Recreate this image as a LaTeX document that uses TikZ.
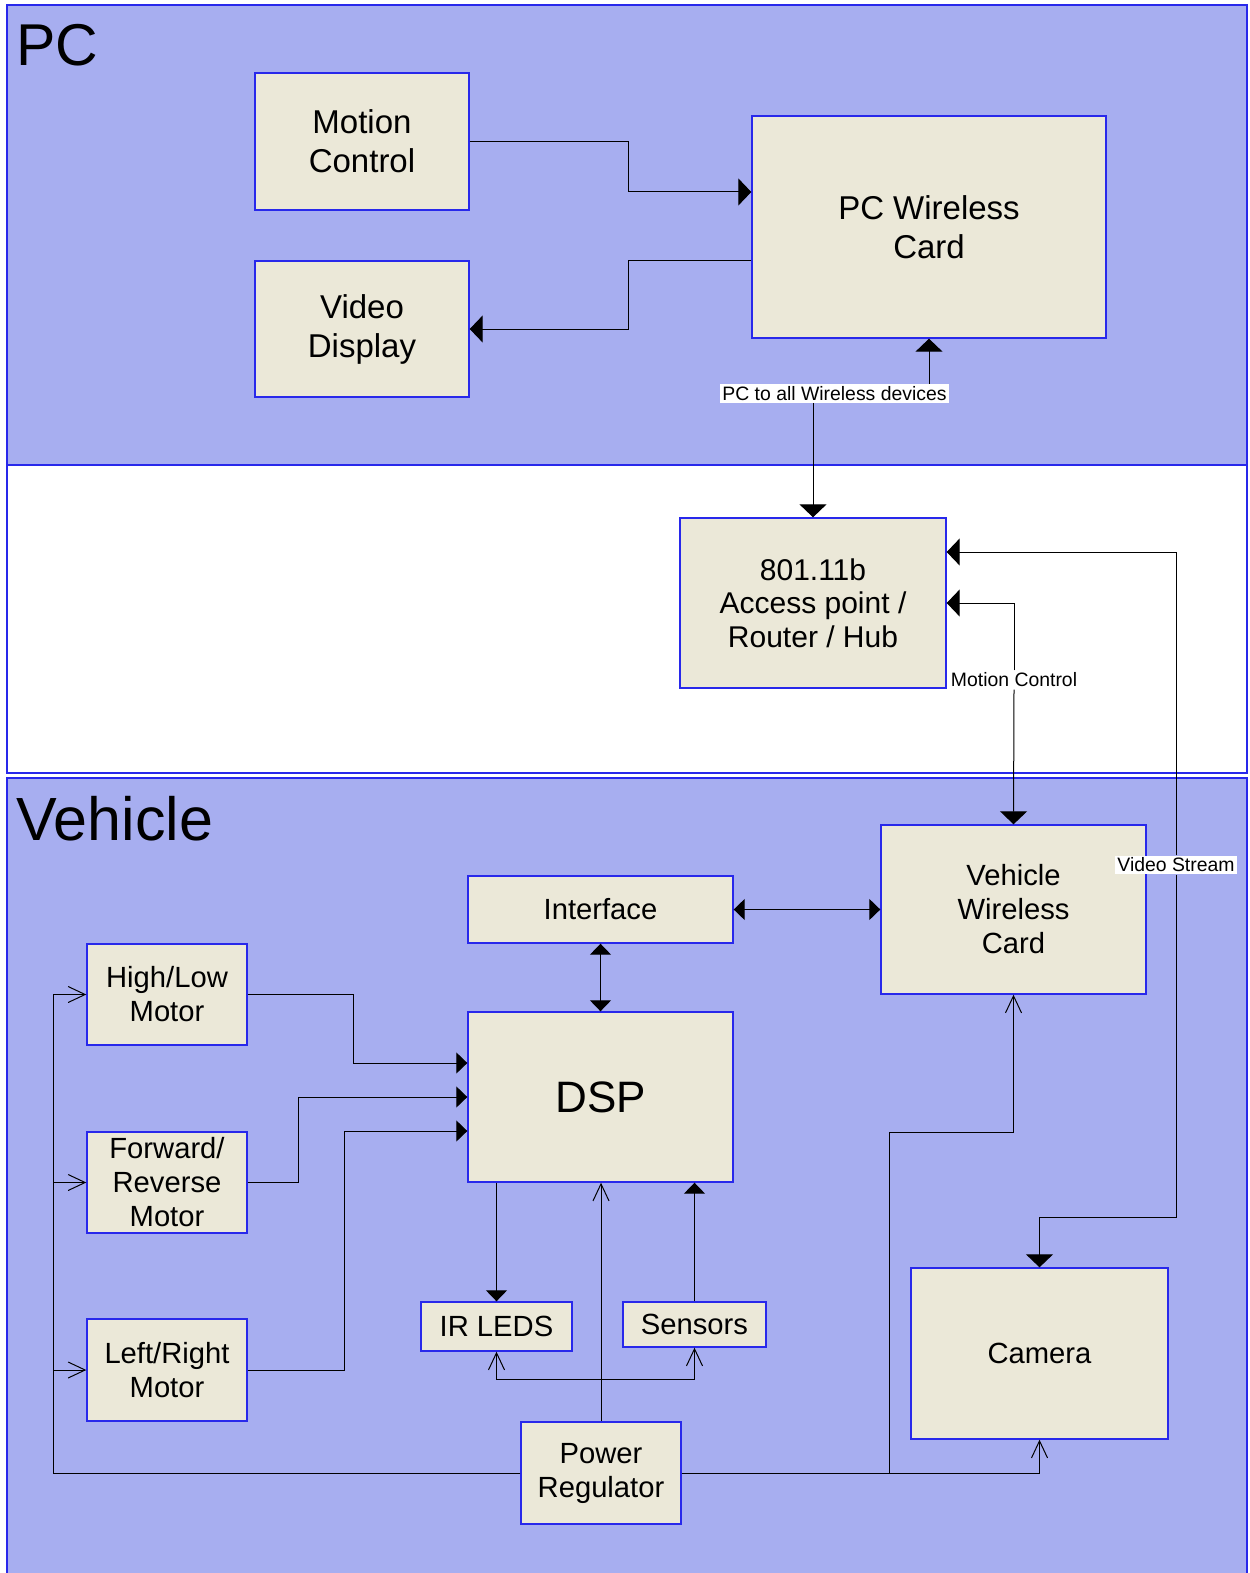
\documentclass[tikz,border=0pt]{standalone}
\usepackage{fontspec}
\setmainfont{Liberation Sans}
\usetikzlibrary{arrows.meta}

\definecolor{panelblue}{RGB}{167,174,240}
\definecolor{boxfill}{RGB}{235,232,216}
\definecolor{edgeblue}{RGB}{40,40,235}

\begin{document}
\begin{tikzpicture}[x=0.5pt, y=-0.5pt,
    block/.style={draw=edgeblue, line width=0.7pt, fill=boxfill, rectangle, align=center, inner sep=0pt, font=\fontsize{14.6}{17}\selectfont},
    bigblock/.style={block, font=\fontsize{16.5}{19.5}\selectfont},
    tag/.style={fill=white, inner sep=1pt, font=\fontsize{9.7}{11}\selectfont},
    arrow/.style={-{Triangle[length=6.5pt, width=13.5pt]}, line width=0.5pt},
    sarrow/.style={-{Triangle[length=5.5pt, width=10.5pt]}, line width=0.5pt},
    both/.style={{Triangle[length=5.5pt, width=10.5pt]}-{Triangle[length=5.5pt, width=10.5pt]}, line width=0.5pt},
    feed/.style={-{Straight Barb[length=8.5pt, width=8pt]}, line width=0.5pt}]

    \useasboundingbox (0,0) rectangle (1249,1573);

    % Panels
    \filldraw[fill=panelblue, draw=edgeblue, line width=0.7pt] (7,5) rectangle (1247,465);
    \draw[edgeblue, line width=0.7pt] (7,465) rectangle (1247,773);
    \fill[panelblue] (7,778) rectangle (1247,1573);
    \draw[edgeblue, line width=0.7pt] (7,1573) -- (7,778) -- (1247,778) -- (1247,1573);

    \node[anchor=base west, inner sep=0pt, font=\fontsize{29.5}{31}\selectfont] (pctitle) at (16,66) {PC};
    \node[anchor=base west, inner sep=0pt, font=\fontsize{30.5}{33}\selectfont] (vehtitle) at (16,840) {Vehicle};

    % PC side
    \node[bigblock, minimum width=107pt, minimum height=68.5pt] (motion) at (362,141.5) {Motion\\Control};
    \node[bigblock, minimum width=107pt, minimum height=68pt] (video) at (362,329) {Video\\Display};
    \node[bigblock, minimum width=177pt, minimum height=111pt] (pccard) at (929,227) {PC Wireless\\Card};

    % Network
    \node[block, font=\fontsize{15}{16.8}\selectfont, minimum width=133pt, minimum height=85pt] (router) at (813,603) {801.11b\\Access point /\\Router / Hub};

    % Vehicle side
    \node[block, minimum width=132.5pt, minimum height=84.5pt] (vcard) at (1013.5,909.5) {Vehicle\\Wireless\\Card};
    \node[block, minimum width=128.5pt, minimum height=85.5pt] (camera) at (1039.5,1353.5) {Camera};
    \node[block, minimum width=132.5pt, minimum height=33.5pt] (iface) at (600.5,909.5) {Interface};
    \node[block, font=\fontsize{22}{24}\selectfont, minimum width=132.5pt, minimum height=85pt] (dsp) at (600.5,1097) {DSP};
    \node[block, minimum width=80pt, minimum height=50.5pt] (hilo) at (167,994.5) {High/Low\\Motor};
    \node[block, minimum width=80pt, minimum height=50.5pt] (fwdrev) at (167,1182.5) {Forward/\\Reverse\\Motor};
    \node[block, minimum width=80pt, minimum height=51pt] (lftrgt) at (167,1370) {Left/Right\\Motor};
    \node[block, minimum width=75.5pt, minimum height=24.5pt] (irleds) at (496.5,1326.5) {IR LEDS};
    \node[block, minimum width=71.5pt, minimum height=22.5pt] (sensors) at (694.5,1324.5) {Sensors};
    \node[block, minimum width=80pt, minimum height=51pt] (power) at (601,1473) {Power\\Regulator};

    % Link labels
    \node[tag] (pctag) at (834.5,393.5) {PC to all Wireless devices};
    \node[tag] (mctag) at (1014,680) {Motion Control};
    \node[tag] (vstag) at (1176,865) {Video Stream};

    % PC arrows
    \draw[arrow] (motion.east) -| (628,192) -- (pccard.west |- 0,192);
    \draw[arrow] (pccard.west |- 0,261) -| (628,329) -- (video.east);
    \draw[arrow] (pctag.north -| pccard.south) -- (pccard.south);
    \draw[arrow] (router.north |- pctag.south) -- (router.north);

    % Wireless links
    \draw[arrow] (mctag.north) |- (router.east);
    \draw[arrow] (mctag.south) -- (vcard.north);
    \draw[arrow] (vstag.north) |- (router.east |- 0,552);
    \draw[arrow] (vstag.south) -- (vstag.south |- 0,1217) -| (camera.north);

    % Vehicle data
    \draw[both] (iface) -- (vcard);
    \draw[both] (iface) -- (dsp);
    \draw[sarrow] (hilo.east) -| (353,1063) -- (dsp.west |- 0,1063);
    \draw[sarrow] (fwdrev.east) -| (298,1097) -- (dsp.west);
    \draw[sarrow] (lftrgt.east) -| (344,1131) -- (dsp.west |- 0,1131);
    \draw[sarrow] (dsp.south -| irleds.north) -- (irleds.north);
    \draw[sarrow] (sensors.north) -- (sensors.north |- dsp.south);

    % Power feeds
    \draw[feed] (power.west) -| (hilo.west -| 53,0) -- (hilo.west);
    \draw[feed] (fwdrev.west -| 53,0) -- (fwdrev.west);
    \draw[feed] (lftrgt.west -| 53,0) -- (lftrgt.west);
    \draw[feed] (power.north) -- (power.north |- dsp.south);
    \draw[feed] (power.north |- 0,1379) -| (irleds.south);
    \draw[feed] (power.north |- 0,1379) -| (sensors.south);
    \draw[feed] (power.east) -| (camera.south);
    \draw[feed] (power.east -| 889,0) |- (vcard.south |- 0,1132) -- (vcard.south);
\end{tikzpicture}
\end{document}
